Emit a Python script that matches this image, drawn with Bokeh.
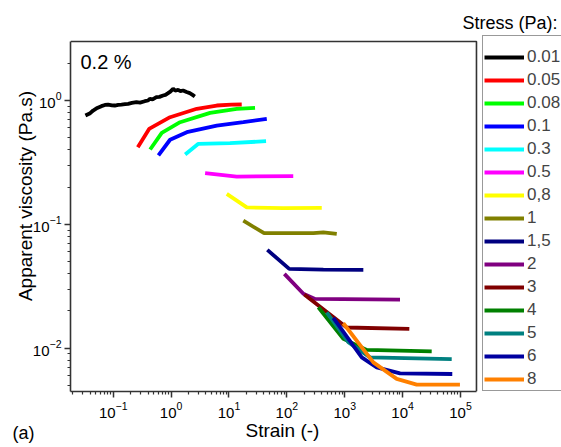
from bokeh.plotting import figure
from bokeh.models import (FixedTicker, Legend, LegendItem, Label, Range1d, Title)
from bokeh.embed import file_html
from bokeh.resources import INLINE

# ---------------- data ----------------
stress_labels = ["0.01", "0.05", "0.08", "0.1", "0.3", "0.5", "0,8", "1", "1,5",
                 "2", "3", "4", "5", "6", "8"]
colors = ["#000000", "#FF0000", "#00FF00", "#0000FF", "#00FFFF", "#FF00FF",
          "#FFFF00", "#808000", "#000080", "#800080", "#800000", "#008000",
          "#008080", "#0000A0", "#FF8000"]

strain_001 = [0.0331, 0.040, 0.045, 0.053, 0.0625, 0.072, 0.0816, 0.095, 0.1066, 0.122,
              0.1386, 0.16, 0.181, 0.21, 0.252, 0.29, 0.351, 0.40, 0.429, 0.48,
              0.557, 0.63, 0.727, 0.80, 0.887, 0.97, 1.083, 1.18, 1.32, 1.45,
              1.61, 1.85, 2.10, 2.35, 2.57]
visc_001 = [0.757, 0.79, 0.830, 0.87, 0.900, 0.92, 0.928, 0.915, 0.911, 0.922,
            0.928, 0.935, 0.940, 0.955, 0.969, 0.962, 0.987, 1.00, 1.032, 1.02,
            1.063, 1.07, 1.097, 1.11, 1.146, 1.18, 1.243, 1.20, 1.22, 1.19,
            1.205, 1.17, 1.146, 1.11, 1.077]

strain_005 = [0.266, 0.417, 0.96, 2.78, 6.15, 11.0, 16.6]
visc_005 = [0.42, 0.59, 0.733, 0.857, 0.911, 0.925, 0.928]

strain_008 = [0.434, 0.69, 1.43, 4.72, 13.6, 28.2]
visc_008 = [0.402, 0.548, 0.668, 0.795, 0.857, 0.873]

strain_01 = [0.604, 0.96, 1.87, 6.15, 17.7, 45.0]
visc_01 = [0.36, 0.482, 0.555, 0.628, 0.668, 0.711]

strain_03 = [1.75, 2.96, 10.4, 43.7]
visc_03 = [0.366, 0.447, 0.452, 0.469]

strain_05 = [3.87, 13.6, 129.0]
visc_05 = [0.259, 0.243, 0.245]

strain_08 = [9.16, 20.3, 87.0, 401.0]
visc_08 = [0.176, 0.137, 0.135, 0.136]

strain_1 = [17.7, 40.4, 287.0, 427.0, 728.0]
visc_1 = [0.107, 0.0848, 0.0848, 0.0863, 0.0838]

strain_15 = [46.0, 110.0, 427.0, 2096.0]
visc_15 = [0.0622, 0.0437, 0.0431, 0.0429]

strain_2 = [90.6, 193.0, 307.0, 9020.0]
visc_2 = [0.0398, 0.0275, 0.025, 0.0247]

strain_3 = [200.0, 1083.0, 13060.0]
visc_3 = [0.0271, 0.0147, 0.0143]

strain_4 = [350.0, 946.0, 2400.0, 31800.0]
visc_4 = [0.0214, 0.0119, 0.00969, 0.00944]

strain_5 = [489.0, 1153.0, 2735.0, 70500.0]
visc_5 = [0.0195, 0.0112, 0.00844, 0.00815]

strain_6 = [635.0, 1967.0, 3570.0, 9020.0, 72100.0]
visc_6 = [0.0176, 0.00844, 0.00701, 0.00626, 0.00619]

strain_8 = [946.0, 3120.0, 7910.0, 17500.0, 97800.0]
visc_8 = [0.0159, 0.00769, 0.00565, 0.00508, 0.00508]

series_x = [strain_001, strain_005, strain_008, strain_01, strain_03, strain_05,
            strain_08, strain_1, strain_15, strain_2, strain_3, strain_4,
            strain_5, strain_6, strain_8]
series_y = [visc_001, visc_005, visc_008, visc_01, visc_03, visc_05,
            visc_08, visc_1, visc_15, visc_2, visc_3, visc_4,
            visc_5, visc_6, visc_8]

x_major = [1e-1, 1e0, 1e1, 1e2, 1e3, 1e4, 1e5]
y_major = [1e-2, 1e-1, 1e0]

# axis extents (log10) of the boxed plot area
X_LO, X_HI = 10 ** -1.738, 10 ** 5.276
Y_LO, Y_TOP = 10 ** -2.3496, 10 ** 0.4764

# ---------------- figure ----------------
FONT = "Liberation Sans"
AX = "#333333"
p = figure(width=561, height=447, x_axis_type="log", y_axis_type="log",
           output_backend="svg", toolbar_location=None,
           x_range=Range1d(X_LO, 10 ** 6.745),
           y_range=Range1d(Y_LO, 10 ** 0.8074),
           min_border_left=70, min_border_right=0,
           min_border_top=0, min_border_bottom=56)
p.xgrid.visible = False
p.ygrid.visible = False
p.outline_line_color = None
p.background_fill_color = "white"
p.border_fill_color = "white"

xminor = [m * 10.0 ** e for e in range(-2, 6) for m in range(2, 10)]
yminor = [m * 10.0 ** e for e in range(-3, 1) for m in range(2, 10)]
xminor = [v for v in xminor if X_LO <= v <= X_HI]
yminor = [v for v in yminor if Y_LO <= v <= Y_TOP]
p.xaxis.ticker = FixedTicker(ticks=x_major, minor_ticks=xminor)
p.yaxis.ticker = FixedTicker(ticks=y_major, minor_ticks=yminor)
p.xaxis.bounds = (X_LO, X_HI)
p.yaxis.bounds = (Y_LO, Y_TOP)

for ax in (p.xaxis[0], p.yaxis[0]):
    ax.axis_line_color = AX
    ax.axis_line_width = 1.6
    ax.major_tick_line_color = AX
    ax.minor_tick_line_color = AX
    ax.major_tick_line_width = 1.5
    ax.minor_tick_line_width = 1.2
    ax.major_tick_out = 6
    ax.major_tick_in = 0
    ax.minor_tick_out = 3
    ax.minor_tick_in = 0
    ax.major_label_text_font = FONT
    ax.major_label_text_font_size = "15px"
    ax.major_label_text_color = "#000000"
    ax.axis_label_text_font = FONT
    ax.axis_label_text_font_size = "19px"
    ax.axis_label_text_font_style = "normal"
    ax.axis_label_text_color = "#000000"

p.yaxis.axis_label = "Apparent viscosity (Pa.s)"
p.xaxis.major_label_standoff = 4
p.yaxis.major_label_standoff = 3
p.yaxis.axis_label_standoff = -6

# top and right sides of the box
p.line([X_LO, X_HI, X_HI], [Y_TOP, Y_TOP, Y_LO], line_color=AX, line_width=1.6)

items = []
for xs, ys, c, lab in zip(series_x, series_y, colors, stress_labels):
    r = p.line(xs, ys, line_color=c, line_width=3.8)
    items.append(LegendItem(label=lab, renderers=[r]))

legend = Legend(items=items, location=(412, 0), orientation="vertical",
                glyph_width=40, glyph_height=20, label_height=20, spacing=3,
                padding=1, margin=0, label_standoff=3,
                label_text_font=FONT, label_text_font_size="17px",
                border_line_color=AX, border_line_width=1.5,
                background_fill_alpha=1.0, background_fill_color="white",
                title=" ", title_text_font_size="6px", title_standoff=4)
p.add_layout(legend, "center")

p.add_layout(Label(x=10, y=330, x_units="screen", y_units="screen",
                   text="0.2 %", text_font=FONT, text_font_size="20px",
                   text_baseline="middle", text_color="#000000"))
p.add_layout(Label(x=392, y=369, x_units="screen", y_units="screen",
                   text="Stress (Pa):", text_font=FONT, text_font_size="18px",
                   text_baseline="middle", text_color="#000000"))
# x-axis title and panel tag, placed below the axis
p.add_layout(Title(text="Strain (-)", align="left", offset=175, vertical_align="top",
                   standoff=-2, text_font=FONT, text_font_size="19px",
                   text_font_style="normal", text_color="#000000"), "below")
p.add_layout(Title(text="(a)", align="left", offset=-58, vertical_align="top",
                   standoff=-37, text_font=FONT, text_font_size="18px",
                   text_font_style="normal", text_color="#000000"), "below")

open("out.html", "w").write(file_html(p, INLINE))
